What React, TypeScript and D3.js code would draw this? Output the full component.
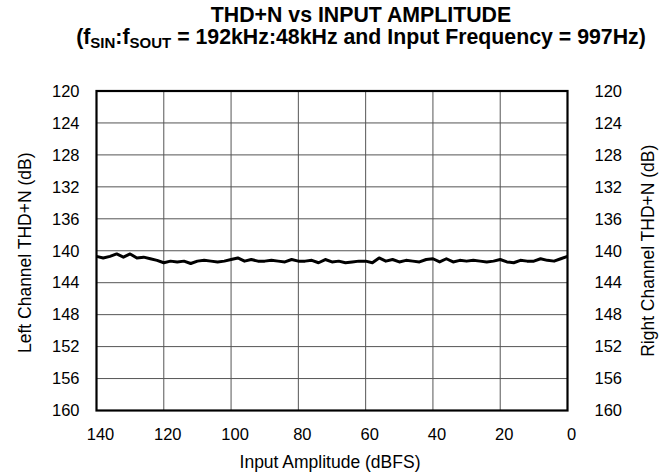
import React, { useEffect, useRef } from 'react';
import * as d3 from 'd3';

// Input amplitude (dBFS), plotted 140 -> 0 left to right
const amplitudes: number[] = [
  -140, -138, -136, -134, -132, -130, -128, -126, -124, -122,
  -120, -118, -116, -114, -112, -110, -108, -106, -104, -102,
  -100, -98, -96, -94, -92, -90, -88, -86, -84, -82,
  -80, -78, -76, -74, -72, -70, -68, -66, -64, -62,
  -60, -58, -56, -54, -52, -50, -48, -46, -44, -42,
  -40, -38, -36, -34, -32, -30, -28, -26, -24, -22,
  -20, -18, -16, -14, -12, -10, -8, -6, -4, -2, 0
];

// THD+N magnitude (dB), axis grows downward
const thdn: number[] = [
  140.7, 140.9, 140.7, 140.4, 140.8, 140.4, 140.9, 140.8, 141.0, 141.2,
  141.5, 141.3, 141.4, 141.3, 141.6, 141.3, 141.2, 141.3, 141.4, 141.3,
  141.1, 140.9, 141.3, 141.1, 141.3, 141.3, 141.2, 141.3, 141.4, 141.1,
  141.3, 141.3, 141.2, 141.5, 141.1, 141.4, 141.3, 141.5, 141.4, 141.3,
  141.3, 141.5, 140.9, 141.3, 141.1, 141.4, 141.2, 141.3, 141.4, 141.1,
  141.0, 141.4, 141.0, 141.4, 141.2, 141.3, 141.2, 141.3, 141.4, 141.3,
  141.1, 141.4, 141.5, 141.2, 141.3, 141.3, 141.0, 141.2, 141.3, 141.0, 140.7
];

const xTicks: number[] = [-140, -120, -100, -80, -60, -40, -20, 0];
const yTicks: number[] = [120, 124, 128, 132, 136, 140, 144, 148, 152, 156, 160];

const FONT = '"Liberation Sans", Arial, Helvetica, sans-serif';

const App: React.FC = () => {
  const svgRef = useRef<SVGSVGElement>(null);

  useEffect(() => {
    if (!svgRef.current) return;
    const width = 665;
    const height = 474;
    const margin = { top: 91, right: 97.5, bottom: 63.5, left: 96.5 };
    const innerWidth = width - margin.left - margin.right;
    const innerHeight = height - margin.top - margin.bottom;

    const root = d3.select(svgRef.current);
    root.selectAll('*').remove();
    root.attr('width', width).attr('height', height);

    // Title
    root.append('text')
      .attr('x', 361)
      .attr('y', 22)
      .attr('text-anchor', 'middle')
      .attr('font-family', FONT)
      .attr('font-weight', 'bold')
      .attr('font-size', '21.3px')
      .text('THD+N vs INPUT AMPLITUDE');

    const sub = root.append('text')
      .attr('x', 361)
      .attr('y', 44)
      .attr('text-anchor', 'middle')
      .attr('font-family', FONT)
      .attr('font-weight', 'bold')
      .attr('font-size', '21.3px');
    sub.append('tspan').text('(f');
    sub.append('tspan').attr('font-size', '15px').attr('dy', 4).text('SIN');
    sub.append('tspan').attr('dy', -4).text(':f');
    sub.append('tspan').attr('font-size', '15px').attr('dy', 4).text('SOUT');
    sub.append('tspan').attr('dy', -4).text(' = 192kHz:48kHz and Input Frequency = 997Hz)');

    const svg = root.append('g')
      .attr('transform', `translate(${margin.left},${margin.top})`);

    const xScale = d3.scaleLinear().domain([-140, 0]).range([0, innerWidth]);
    const yScale = d3.scaleLinear().domain([120, 160]).range([0, innerHeight]);

    // Grid
    svg.append('g')
      .selectAll('line')
      .data(xTicks)
      .enter()
      .append('line')
      .attr('x1', d => xScale(d))
      .attr('x2', d => xScale(d))
      .attr('y1', 0)
      .attr('y2', innerHeight)
      .attr('stroke', '#555')
      .attr('stroke-width', 1);

    svg.append('g')
      .selectAll('line')
      .data(yTicks)
      .enter()
      .append('line')
      .attr('x1', 0)
      .attr('x2', innerWidth)
      .attr('y1', d => yScale(d))
      .attr('y2', d => yScale(d))
      .attr('stroke', '#555')
      .attr('stroke-width', 1);

    // Frame
    svg.append('rect')
      .attr('width', innerWidth)
      .attr('height', innerHeight)
      .attr('fill', 'none')
      .attr('stroke', '#000')
      .attr('stroke-width', 2.2);

    // Data line
    const points = amplitudes.map((a, i) => ({ a, v: thdn[i] }));
    const line = d3.line<{ a: number; v: number }>()
      .x(d => xScale(d.a))
      .y(d => yScale(d.v));

    svg.append('path')
      .datum(points)
      .attr('fill', 'none')
      .attr('stroke', '#000')
      .attr('stroke-width', 3)
      .attr('stroke-linejoin', 'round')
      .attr('d', line);

    // Tick labels
    const tickText = (sel: d3.Selection<SVGTextElement, number, SVGGElement, unknown>) =>
      sel.attr('font-family', FONT).attr('font-size', '16.5px').attr('fill', '#000');

    svg.append('g')
      .selectAll('text')
      .data(yTicks)
      .enter()
      .append('text')
      .attr('x', -17)
      .attr('y', d => yScale(d))
      .attr('dy', '0.35em')
      .attr('text-anchor', 'end')
      .call(tickText)
      .text(d => d);

    svg.append('g')
      .selectAll('text')
      .data(yTicks)
      .enter()
      .append('text')
      .attr('x', innerWidth + 27)
      .attr('y', d => yScale(d))
      .attr('dy', '0.35em')
      .attr('text-anchor', 'start')
      .call(tickText)
      .text(d => d);

    svg.append('g')
      .selectAll('text')
      .data(xTicks)
      .enter()
      .append('text')
      .attr('x', d => xScale(d) + 4)
      .attr('y', innerHeight + 29.5)
      .attr('text-anchor', 'middle')
      .call(tickText)
      .text(d => Math.abs(d));

    // Axis titles
    svg.append('text')
      .attr('x', innerWidth / 2 - 2)
      .attr('y', innerHeight + 57)
      .attr('text-anchor', 'middle')
      .attr('font-family', FONT)
      .attr('font-size', '17.5px')
      .text('Input Amplitude (dBFS)');

    svg.append('text')
      .attr('transform', `translate(${-66},${innerHeight / 2 + 2}) rotate(-90)`)
      .attr('text-anchor', 'middle')
      .attr('font-family', FONT)
      .attr('font-size', '17.5px')
      .text('Left Channel THD+N (dB)');

    svg.append('text')
      .attr('transform', `translate(${innerWidth + 86},${innerHeight / 2}) rotate(-90)`)
      .attr('text-anchor', 'middle')
      .attr('font-family', FONT)
      .attr('font-size', '17.5px')
      .text('Right Channel THD+N (dB)');
  }, []);

  return (
    <div style={{ position: 'absolute', left: 0, top: 0, background: '#fff' }}>
      <svg ref={svgRef} style={{ display: 'block' }}></svg>
    </div>
  );
};

export default App;
